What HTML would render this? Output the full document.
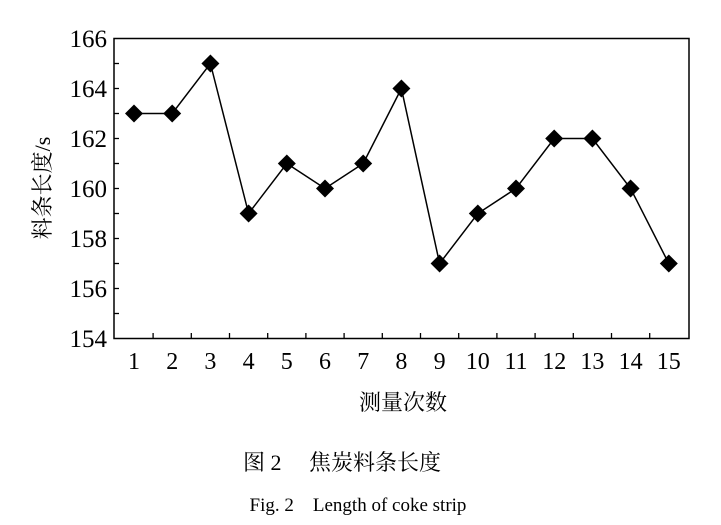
<!DOCTYPE html><html><head><meta charset="utf-8"><style>body{margin:0;background:#fff}</style></head><body>
<svg width="721" height="520" xmlns="http://www.w3.org/2000/svg" font-family="Liberation Serif, Noto Serif CJK SC, serif">
<rect x="114" y="38.5" width="575" height="300" fill="none" stroke="#000" stroke-width="1.5"/>
<g stroke="#000" stroke-width="1.3">
<line x1="114" y1="63.5" x2="119" y2="63.5"/><line x1="114" y1="88.5" x2="119" y2="88.5"/><line x1="114" y1="113.5" x2="119" y2="113.5"/><line x1="114" y1="138.5" x2="119" y2="138.5"/><line x1="114" y1="163.5" x2="119" y2="163.5"/><line x1="114" y1="188.5" x2="119" y2="188.5"/><line x1="114" y1="213.5" x2="119" y2="213.5"/><line x1="114" y1="238.5" x2="119" y2="238.5"/><line x1="114" y1="263.5" x2="119" y2="263.5"/><line x1="114" y1="288.5" x2="119" y2="288.5"/><line x1="114" y1="313.5" x2="119" y2="313.5"/>
</g>
<g id="xt" stroke="#000" stroke-width="1.3"></g>
<g font-size="25" text-anchor="end">
<text x="107" y="47">166</text><text x="107" y="97">164</text><text x="107" y="147">162</text><text x="107" y="197">160</text><text x="107" y="247">158</text><text x="107" y="297">156</text><text x="107" y="347">154</text>
</g>
<g id="xl" font-size="24" text-anchor="middle"></g>
<polyline id="ln" fill="none" stroke="#000" stroke-width="1.5"/>
<g id="mk"></g>
<text transform="translate(50,188) rotate(-90)" font-size="22" text-anchor="middle">料条长度/s</text>
<text x="403" y="410" font-size="22" text-anchor="middle">测量次数</text>
<text x="342" y="470" font-size="22" text-anchor="middle">图 2　 焦炭料条长度</text>
<text x="358" y="511" font-size="19" text-anchor="middle">Fig. 2　Length of coke strip</text>
<script>
var v=[163,163,165,159,161,160,161,164,157,159,160,162,162,160,157],pts=[],ns="http://www.w3.org/2000/svg";
var xt=document.getElementById('xt'),xl=document.getElementById('xl'),mk=document.getElementById('mk');
for(var i=0;i<15;i++){var x=134+i*38.2,y=38.5+(166-v[i])*25;pts.push(x+','+y);
var t=document.createElementNS(ns,'text');t.setAttribute('x',x);t.setAttribute('y',369);t.textContent=i+1;xl.appendChild(t);
var p=document.createElementNS(ns,'polygon');p.setAttribute('points',(x-9)+','+y+' '+x+','+(y-9)+' '+(x+9)+','+y+' '+x+','+(y+9));mk.appendChild(p);
if(i<14){var l=document.createElementNS(ns,'line');var tx=x+19.1;l.setAttribute('x1',tx);l.setAttribute('x2',tx);l.setAttribute('y1',338.5);l.setAttribute('y2',333);xt.appendChild(l);}}
document.getElementById('ln').setAttribute('points',pts.join(' '));
</script>
</svg></body></html>
